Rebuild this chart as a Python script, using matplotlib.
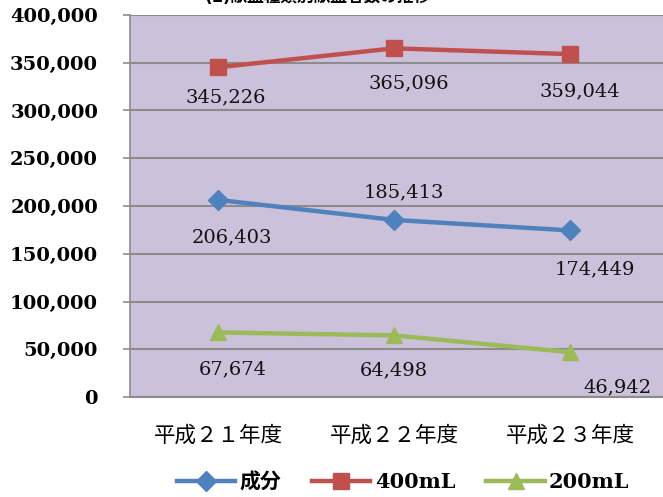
import matplotlib
matplotlib.use("Agg")
import matplotlib.pyplot as plt
from matplotlib.ticker import FuncFormatter

categories = ["平成２１年度", "平成２２年度", "平成２３年度"]
series_names = ["成分", "400mL", "200mL"]
seibun = [206403, 185413, 174449]
ml400 = [345226, 365096, 359044]
ml200 = [67674, 64498, 46942]
title = "(1)献血種類別献血者数の推移"

colors = ["#4F81BD", "#C0504D", "#9BBB59"]
markers = ["D", "s", "^"]
msizes = [10, 11, 12]
# label offsets in pixels (dx, dy) relative to point
offsets = [
    [(14, -37), (10, 28), (25, -39)],
    [(8, -30), (15, -35), (10, -37)],
    [(15, -37), (0, -35), (48, -35)],
]

fig = plt.figure(figsize=(6.63, 4.97), dpi=100)
W, H = 663, 497
ax = fig.add_axes([130 / W, 1 - 397 / H, 533 / W, 382 / H])
ax.set_facecolor("#CCC1DA")

xs = list(range(len(categories)))
data = [seibun, ml400, ml200]
handles = []
for vals, c, m, ms, name, offs in zip(data, colors, markers, msizes, series_names, offsets):
    h, = ax.plot(xs, vals, color=c, lw=3.2, marker=m, markersize=ms, label=name, zorder=3)
    handles.append(h)
    for x, v, (dx, dy) in zip(xs, vals, offs):
        ax.annotate(f"{v:,}", (x, v), xytext=(dx * 0.72, dy * 0.72), textcoords="offset points",
                    ha="center", va="center", fontsize=14, family="DejaVu Serif", color="#111111",
                    zorder=4)

ax.set_xlim(-0.5, -0.5 + 533 / 176)
ax.set_ylim(0, 400000)
ax.set_yticks(range(0, 400001, 50000))
ax.yaxis.set_major_formatter(FuncFormatter(lambda v, p: f"{int(v):,}"))
for lbl in ax.get_yticklabels():
    lbl.set_family("DejaVu Serif")
    lbl.set_fontweight("bold")
    lbl.set_fontsize(14)
ax.tick_params(axis="y", length=5, width=1.2, color="#8C8C8C", pad=18)
ax.set_xticks(xs)
ax.set_xticklabels(categories, family=["Noto Sans CJK JP"], fontsize=15.5)
ax.tick_params(axis="x", length=0, pad=20)
ax.grid(axis="y", color="#8C8C8C", lw=1.5)
ax.set_axisbelow(True)
for s in ["top", "right"]:
    ax.spines[s].set_visible(False)
ax.spines["left"].set_color("#8C8C8C")
ax.spines["left"].set_linewidth(1.2)
ax.spines["bottom"].set_color("#8C8C8C")
ax.spines["bottom"].set_linewidth(1.5)

leg = fig.legend(handles=handles, loc="center", bbox_to_anchor=(403 / W, 1 - 482 / H), ncol=3,
                 frameon=False, handlelength=2.8, columnspacing=1.5, handletextpad=0.2,
                 prop={"family": ["DejaVu Serif", "Noto Sans CJK JP"], "weight": "bold", "size": 15})

fig.text(318 / W, 1 + 3 / H, title, ha="center", va="center", fontsize=12, fontweight="bold",
         family=["DejaVu Sans", "Noto Sans CJK JP"])

fig.savefig("out.png", dpi=100)
